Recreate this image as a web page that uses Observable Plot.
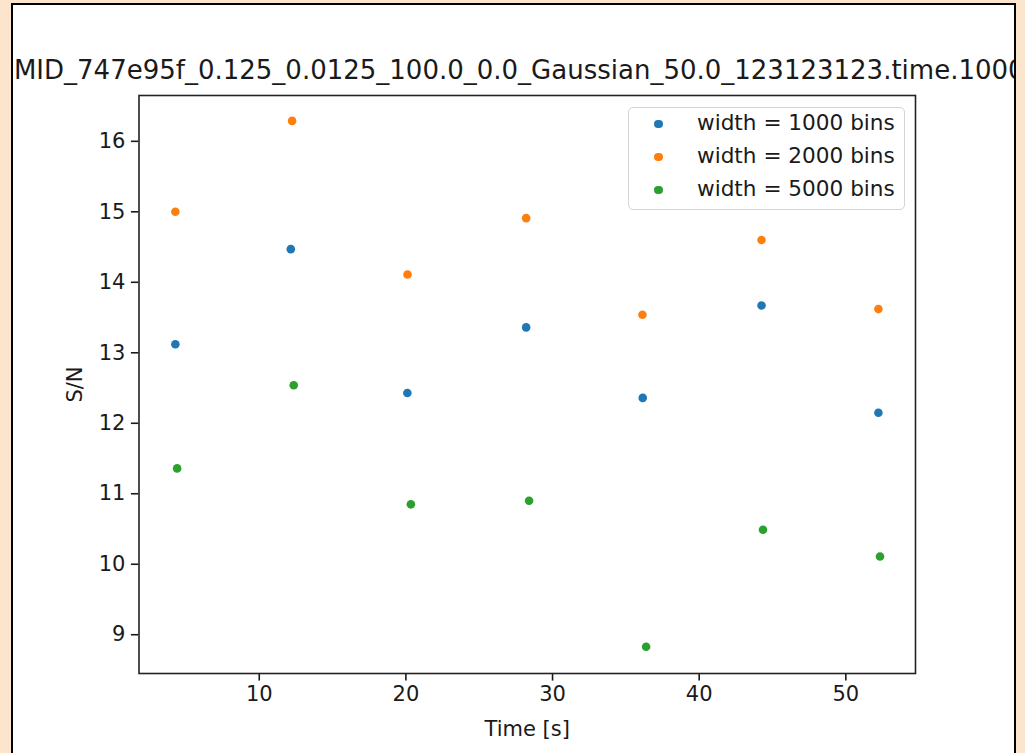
<!DOCTYPE html>
<html>
<head>
<meta charset="utf-8">
<script src="https://cdn.jsdelivr.net/npm/d3@7"></script>
<script src="https://cdn.jsdelivr.net/npm/@observablehq/plot@0.6"></script>
<style>
  html, body { margin: 0; padding: 0; }
  body { width: 1025px; height: 753px; background: rgb(252,229,205); position: relative; overflow: hidden; font-family: "DejaVu Sans", sans-serif; }
  #panel { position: absolute; left: 11px; top: 3px; width: 1005px; height: 770px; box-sizing: border-box; border: 2px solid #000; background: #fff; overflow: hidden; }
  #chart { position: absolute; left: 0; top: 0; }
  #legend { position: absolute; box-sizing: border-box; border: 1px solid #d4d4d4; border-radius: 5px; background: rgba(255,255,255,0.8); }
  .lg-dot { position: absolute; width: 8.6px; height: 8.6px; border-radius: 50%; }
  .lg-txt { position: absolute; white-space: nowrap; font-size: 21.6px; color: #1a1a1a; line-height: 1; }
</style>
</head>
<body>
<div id="panel"><div id="chart"></div><div id="legend"></div></div>
<script>
// ---- data ----
const seriesNames = ["width = 1000 bins", "width = 2000 bins", "width = 5000 bins"];
const seriesColors = ["#1f77b4", "#ff7f0e", "#2ca02c"];
const times1000 = [4.28, 12.15, 20.10, 28.20, 36.15, 44.25, 52.22];
const sn1000    = [13.12, 14.47, 12.43, 13.36, 12.36, 13.67, 12.15];
const times2000 = [4.28, 12.24, 20.11, 28.20, 36.13, 44.25, 52.22];
const sn2000    = [15.00, 16.29, 14.11, 14.91, 13.54, 14.60, 13.62];
const times5000 = [4.40, 12.35, 20.34, 28.40, 36.38, 44.35, 52.33];
const sn5000    = [11.36, 12.54, 10.85, 10.90, 8.83, 10.49, 10.11];
const xTicks = [10, 20, 30, 40, 50];
const yTicks = [9, 10, 11, 12, 13, 14, 15, 16];
const titleText = "MID_747e95f_0.125_0.0125_100.0_0.0_Gaussian_50.0_123123123.time.1000";
const xLabel = "Time [s]";
const yLabel = "S/N";

const rows = [];
[[times1000, sn1000], [times2000, sn2000], [times5000, sn5000]].forEach(([ts, vs], i) => {
  ts.forEach((t, j) => rows.push({series: seriesNames[i], time: t, sn: vs[j]}));
});

const ink = "#1a1a1a";
const W = 1001, H = 748;
const chart = Plot.plot({
  width: W, height: H,
  marginLeft: 125.5, marginRight: 99, marginTop: 90, marginBottom: 80,
  style: {fontFamily: "DejaVu Sans", fontSize: "21px", color: ink, background: "transparent", overflow: "visible"},
  x: {domain: [1.8, 54.75], label: null},
  y: {domain: [8.45, 16.65], label: null},
  color: {domain: seriesNames, range: seriesColors},
  marks: [
    Plot.axisX({ticks: xTicks, tickSize: 7.6, tickPadding: 5, tickFormat: d => String(d), label: null, strokeWidth: 1.6, fontSize: 21}),
    Plot.axisY({ticks: yTicks, tickSize: 7.6, tickPadding: 6, tickFormat: d => String(d), label: null, strokeWidth: 1.6, fontSize: 21}),
    Plot.frame({stroke: "#222", strokeWidth: 1.6}),
    Plot.dot(rows, {x: "time", y: "sn", fill: "series", r: 4.3, stroke: "none"}),
    Plot.text([titleText], {frameAnchor: "top", dx: -8, dy: -25, lineAnchor: "middle", fontSize: 26, fill: ink}),
    Plot.text([xLabel], {frameAnchor: "bottom", dy: 56, lineAnchor: "middle", fontSize: 21, fill: ink}),
    Plot.text([yLabel], {frameAnchor: "left", dx: -64, rotate: -90, lineAnchor: "middle", textAnchor: "middle", fontSize: 21, fill: ink})
  ]
});
document.getElementById("chart").appendChild(chart);

// ---- legend (HTML, positioned in page pixels relative to panel inner box at (13,5)) ----
const lg = document.getElementById("legend");
const ox = 13, oy = 5;
const L = {left: 627.5, top: 106.5, right: 905, bottom: 210};
lg.style.left = (L.left - ox) + "px";
lg.style.top = (L.top - oy) + "px";
lg.style.width = (L.right - L.left) + "px";
lg.style.height = (L.bottom - L.top) + "px";
const rowYs = [124, 156.8, 189.8];
seriesNames.forEach((name, i) => {
  const dot = document.createElement("div");
  dot.className = "lg-dot";
  dot.style.background = seriesColors[i];
  dot.style.left = (658.7 - L.left - 4.3 - 1) + "px";
  dot.style.top = (rowYs[i] - L.top - 4.3 - 1) + "px";
  lg.appendChild(dot);
  const t = document.createElement("div");
  t.className = "lg-txt";
  t.textContent = name;
  t.style.left = (697 - L.left - 1) + "px";
  t.style.top = (rowYs[i] - L.top - 11.8 - 1) + "px";
  lg.appendChild(t);
});
</script>
</body>
</html>
